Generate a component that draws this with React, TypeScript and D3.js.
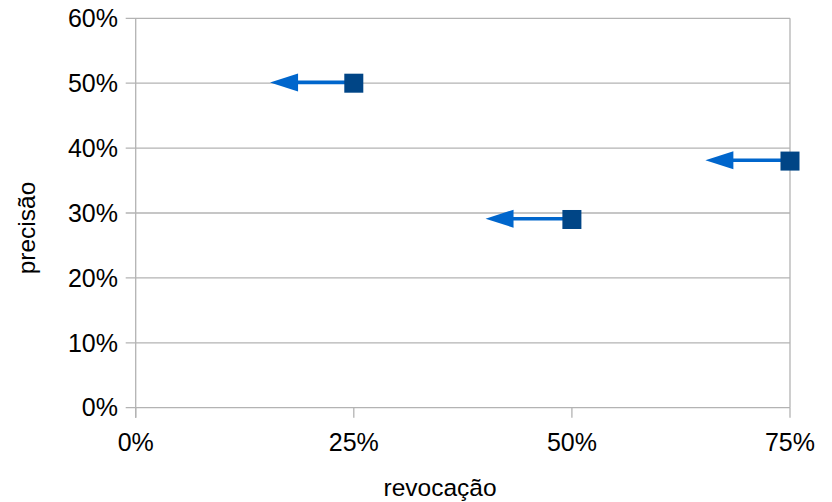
import React from "react";
import * as d3 from "d3";

const recall = [0.25, 0.5, 0.75];
const precision = [0.5, 0.29, 0.38];
const arrowToRecall = [0.154, 0.401, 0.653];
const yTicks = [0, 0.1, 0.2, 0.3, 0.4, 0.5, 0.6];
const xTicks = [0, 0.25, 0.5, 0.75];

const W = 832;
const H = 502;
const left = 135.7;
const right = 790;
const top = 18.3;
const bottom = 407.7;

export default function App() {
  const x = d3.scaleLinear().domain([0, 0.75]).range([left, right]);
  const y = d3.scaleLinear().domain([0, 0.6]).range([bottom, top]);
  const fmt = d3.format(".0%");
  const grid = "#b3b3b3";
  const font = "'Liberation Sans', Arial, sans-serif";
  const fs = 25;
  const tfs = 24.5;
  const headLen = 28;
  const headHalf = 9;
  const sq = 19;

  return (
    <svg
      width={W}
      height={H}
      style={{ position: "absolute", left: 0, top: 0 }}
      fontFamily={font}
    >
      <rect x={0} y={0} width={W} height={H} fill="#ffffff" />
      {yTicks.map((t) => (
        <g key={"y" + t}>
          <line x1={left - 10} x2={right} y1={y(t)} y2={y(t)} stroke={grid} strokeWidth={1.3} />
          <text x={118} y={y(t)} dy="0.35em" textAnchor="end" fontSize={fs} fill="#000">
            {fmt(t)}
          </text>
        </g>
      ))}
      {xTicks.map((t) => (
        <g key={"x" + t}>
          <line x1={x(t)} x2={x(t)} y1={bottom} y2={bottom + 10} stroke={grid} strokeWidth={1.3} />
          <text x={x(t)} y={451} textAnchor="middle" fontSize={fs} fill="#000">
            {fmt(t)}
          </text>
        </g>
      ))}
      <line x1={left} x2={left} y1={top} y2={bottom + 10} stroke={grid} strokeWidth={1.3} />
      <line x1={right} x2={right} y1={top} y2={bottom} stroke={grid} strokeWidth={1.3} />
      {recall.map((r, i) => {
        const cx = x(r);
        const cy = y(precision[i]);
        const tx = x(arrowToRecall[i]);
        return (
          <g key={"p" + i}>
            <line x1={cx} x2={tx + headLen - 1} y1={cy - 0.8} y2={cy - 0.8} stroke="#0066cc" strokeWidth={3.6} />
            <polygon
              points={`${tx},${cy - 0.8} ${tx + headLen},${cy - 0.8 - headHalf} ${tx + headLen},${cy - 0.8 + headHalf}`}
              fill="#0066cc"
            />
            <rect x={cx - sq / 2} y={cy - sq / 2} width={sq} height={sq} fill="#004586" />
          </g>
        );
      })}
      <text
        transform={`translate(${35},${228}) rotate(-90)`}
        textAnchor="middle"
        fontSize={tfs}
        fill="#000"
      >
        precisão
      </text>
      <text x={440} y={496} textAnchor="middle" fontSize={tfs} fill="#000">
        revocação
      </text>
    </svg>
  );
}
